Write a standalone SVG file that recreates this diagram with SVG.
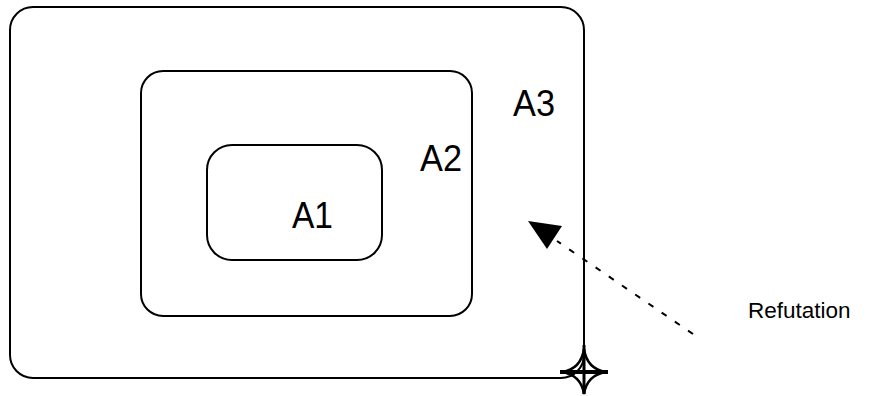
<svg xmlns="http://www.w3.org/2000/svg" width="869" height="396" viewBox="0 0 869 396">
<defs>
<style>
.box{fill:none;stroke:#000;stroke-width:2}
.lbl{font-family:"Liberation Sans",Arial,sans-serif;font-size:36px;fill:#000}
.small{font-family:"Liberation Sans",Arial,sans-serif;font-size:22.5px;fill:#000}
.dash{stroke:#000;stroke-width:2;stroke-dasharray:6 10;fill:none}
</style>
</defs>
<rect width="869" height="396" fill="#fff"/>
<g id="A3">
<rect class="box" x="10" y="7" width="574" height="371" rx="23"/>
<text class="lbl" x="513" y="116" textLength="42" lengthAdjust="spacingAndGlyphs">A3</text>
</g>
<g id="A2">
<rect class="box" x="141" y="71" width="331" height="245" rx="22"/>
<text class="lbl" x="420" y="171" textLength="42" lengthAdjust="spacingAndGlyphs">A2</text>
</g>
<g id="A1">
<rect class="box" x="207" y="145" width="175" height="115" rx="25"/>
<text class="lbl" x="292" y="228" textLength="41" lengthAdjust="spacingAndGlyphs">A1</text>
</g>
<g id="refutation">
<text class="small" x="748" y="318">Refutation</text>
</g>
<g id="connectors">
<path class="dash" d="M693,334 L557,241"/>
<polygon points="528,221 562,226 547,249" fill="#000"/>
<g id="cross">
<path d="M584,349 Q587,369 606,372 Q587,375 584,394 Q581,375 562,372 Q581,369 584,349 Z" fill="none" stroke="#000" stroke-width="2.5"/>
<line x1="560" y1="372" x2="608" y2="372" stroke="#000" stroke-width="4"/>
<line x1="584" y1="345" x2="584" y2="394" stroke="#000" stroke-width="3"/>
</g>
</g>
</svg>
